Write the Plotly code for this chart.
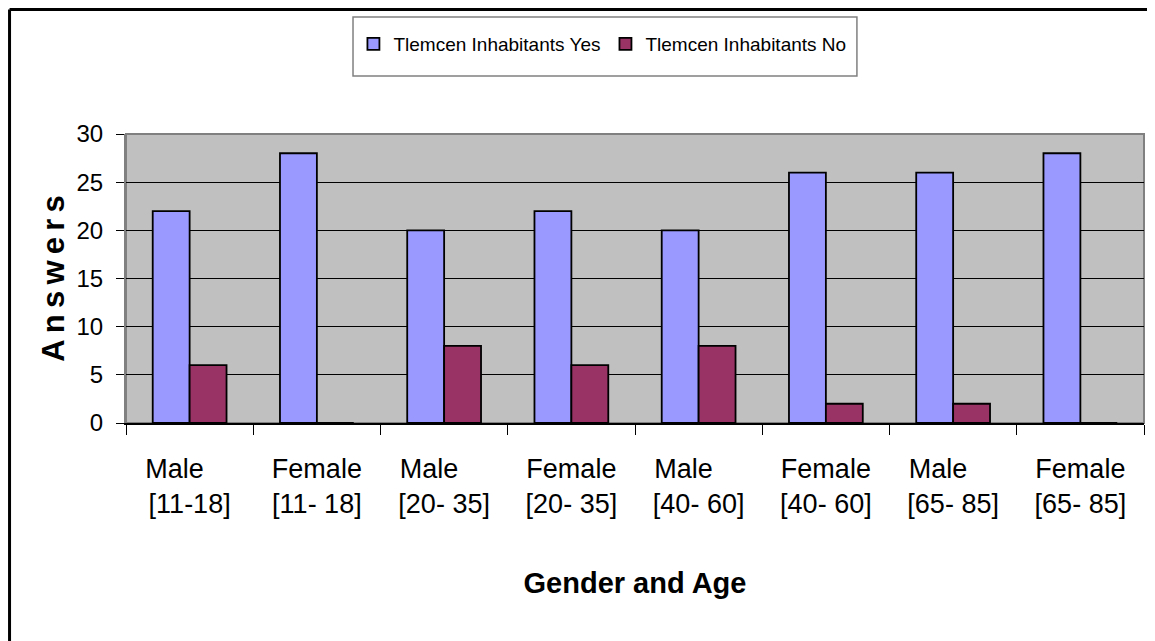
import plotly.graph_objects as go

# categories and answers
genders = ["Male", "Female", "Male", "Female", "Male", "Female", "Male", "Female"]
age_groups = ["[11-18]", "[11- 18]", "[20- 35]", "[20- 35]", "[40- 60]", "[40- 60]", "[65- 85]", "[65- 85]"]
answers_yes = [22, 28, 20, 22, 20, 26, 26, 28]
answers_no = [6, 0, 8, 6, 8, 2, 2, 0]
y_ticks = [0, 5, 10, 15, 20, 25, 30]

FONT = "Liberation Sans, Arial, sans-serif"

# category labels: "Male" sits a bit left of its bracket line in the original
categories = []
for g, a in zip(genders, age_groups):
    pad = "\u00a0" * 4 if g == "Male" else ""
    categories.append(f"{g}{pad}<br>{a}")

fig = go.Figure()
fig.add_trace(go.Bar(
    x=categories, y=answers_yes, name="Tlemcen Inhabitants Yes",
    marker=dict(color="#9999FF", line=dict(color="black", width=1.8)),
))
fig.add_trace(go.Bar(
    x=categories, y=answers_no, name="Tlemcen Inhabitants No",
    marker=dict(color="#993366", line=dict(color="black", width=1.8)),
))

# plot area outline (gray, like the excel plot area border)
fig.add_shape(type="rect", xref="paper", yref="paper", x0=0, y0=0, x1=1, y1=1,
              line=dict(color="#808080", width=2), layer="between")
# legend box
fig.add_shape(type="rect", xref="paper", yref="paper", x0=0.223, x1=0.718, y0=1.201, y1=1.405,
              line=dict(color="#808080", width=1.5), fillcolor="white")
# chart border on top and left
fig.add_shape(type="line", xref="paper", yref="paper", x0=-0.1144, x1=1.02, y0=1.4308, y1=1.4308,
              line=dict(color="black", width=3))
fig.add_shape(type="line", xref="paper", yref="paper", x0=-0.1144, x1=-0.1144, y0=1.4308, y1=-0.8,
              line=dict(color="black", width=3))

fig.update_layout(
    # the page body adds 8px, so the figure is 8px smaller than the window
    width=1147, height=633,
    margin=dict(l=118, r=11, t=126, b=218),
    barmode="group", bargap=0.42, bargroupgap=0,
    plot_bgcolor="#C0C0C0", paper_bgcolor="white",
    font=dict(family=FONT, color="black", size=24),
    legend=dict(
        orientation="h", x=0.468, xanchor="center", y=1.311, yanchor="middle",
        bgcolor="rgba(0,0,0,0)", borderwidth=0,
        font=dict(size=19, family=FONT), itemwidth=30,
    ),
    xaxis=dict(
        type="category", tickson="boundaries", ticks="outside", ticklen=10,
        tickcolor="black", tickwidth=1, showgrid=False,
        showline=True, linecolor="black", linewidth=1.5,
        tickfont=dict(size=27, family=FONT), ticklabelstandoff=21,
        title=dict(text="<b>Gender and Age</b>", font=dict(size=29, family=FONT), standoff=54),
        automargin=False,
    ),
    yaxis=dict(
        range=[0, 30], tickvals=y_ticks, ticks="outside", ticklen=8,
        tickcolor="black", tickwidth=1,
        showgrid=True, gridcolor="black", gridwidth=1,
        zeroline=False, showline=True, linecolor="#808080", linewidth=2,
        tickfont=dict(size=24, family=FONT), ticklabelstandoff=8,
        title=dict(text="<b>" + "\u2009".join("Answers") + "</b>",
                   font=dict(size=31, family=FONT), standoff=3),
        automargin=False,
    ),
)

fig.write_html("out.html")
